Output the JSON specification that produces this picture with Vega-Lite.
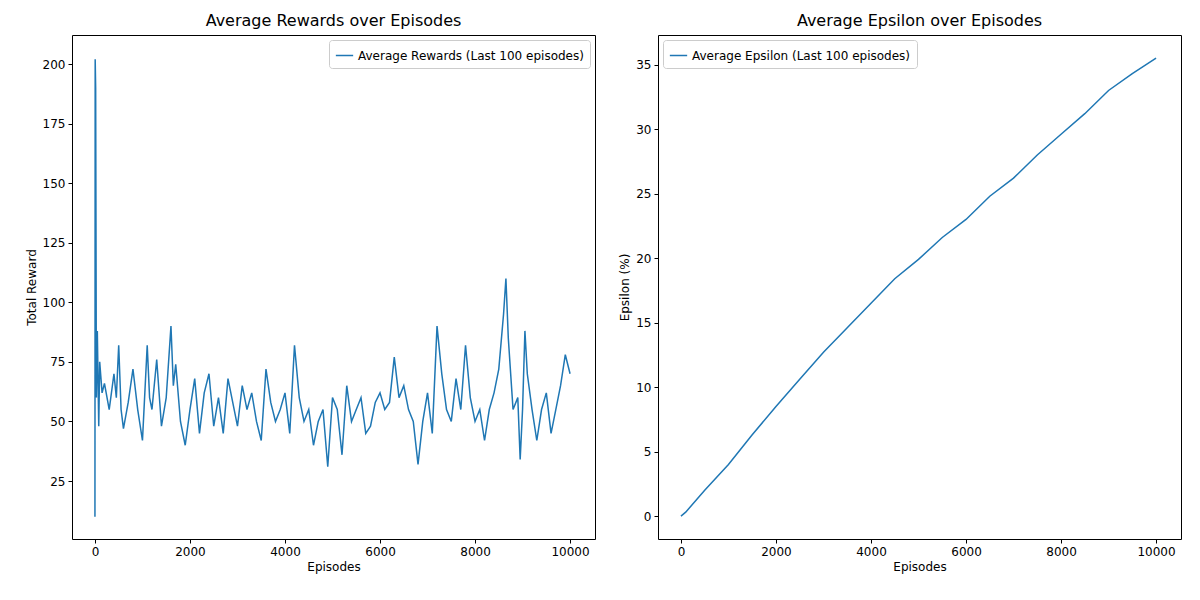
{
  "$schema": "https://vega.github.io/schema/vega-lite/v6.json",
  "background": "white",
  "padding": {"left": 24, "top": 12, "right": 5, "bottom": 5},
  "spacing": 22,
  "datasets": {
    "rewards": [
      {"ep":0,"r":10},{"ep":5,"r":202},{"ep":15,"r":190},{"ep":30,"r":60},{"ep":50,"r":88},{"ep":80,"r":48},{"ep":100,"r":75},{"ep":150,"r":62},{"ep":200,"r":66},{"ep":300,"r":55},{"ep":400,"r":70},{"ep":450,"r":60},{"ep":500,"r":82},{"ep":550,"r":55},{"ep":600,"r":47},{"ep":700,"r":58},{"ep":800,"r":72},{"ep":900,"r":55},{"ep":1000,"r":42},{"ep":1100,"r":82},{"ep":1150,"r":60},{"ep":1200,"r":55},{"ep":1300,"r":76},{"ep":1400,"r":48},{"ep":1500,"r":60},{"ep":1600,"r":90},{"ep":1650,"r":65},{"ep":1700,"r":74},{"ep":1800,"r":50},{"ep":1900,"r":40},{"ep":2000,"r":55},{"ep":2100,"r":68},{"ep":2200,"r":45},{"ep":2300,"r":62},{"ep":2400,"r":70},{"ep":2500,"r":48},{"ep":2600,"r":60},{"ep":2700,"r":45},{"ep":2800,"r":68},{"ep":2900,"r":58},{"ep":3000,"r":48},{"ep":3100,"r":65},{"ep":3200,"r":55},{"ep":3300,"r":62},{"ep":3400,"r":50},{"ep":3500,"r":42},{"ep":3600,"r":72},{"ep":3700,"r":58},{"ep":3800,"r":50},{"ep":3900,"r":55},{"ep":4000,"r":62},{"ep":4100,"r":45},{"ep":4200,"r":82},{"ep":4300,"r":60},{"ep":4400,"r":50},{"ep":4500,"r":55},{"ep":4600,"r":40},{"ep":4700,"r":50},{"ep":4800,"r":55},{"ep":4900,"r":31},{"ep":5000,"r":60},{"ep":5100,"r":55},{"ep":5200,"r":36},{"ep":5300,"r":65},{"ep":5400,"r":50},{"ep":5500,"r":55},{"ep":5600,"r":60},{"ep":5700,"r":45},{"ep":5800,"r":48},{"ep":5900,"r":58},{"ep":6000,"r":62},{"ep":6100,"r":55},{"ep":6200,"r":58},{"ep":6300,"r":77},{"ep":6400,"r":60},{"ep":6500,"r":65},{"ep":6600,"r":55},{"ep":6700,"r":50},{"ep":6800,"r":32},{"ep":6900,"r":50},{"ep":7000,"r":62},{"ep":7100,"r":45},{"ep":7200,"r":90},{"ep":7300,"r":70},{"ep":7400,"r":55},{"ep":7500,"r":50},{"ep":7600,"r":68},{"ep":7700,"r":55},{"ep":7800,"r":82},{"ep":7900,"r":60},{"ep":8000,"r":50},{"ep":8100,"r":55},{"ep":8200,"r":42},{"ep":8300,"r":55},{"ep":8400,"r":62},{"ep":8500,"r":72},{"ep":8600,"r":95},{"ep":8650,"r":110},{"ep":8700,"r":85},{"ep":8800,"r":55},{"ep":8900,"r":60},{"ep":8950,"r":34},{"ep":9000,"r":55},{"ep":9050,"r":88},{"ep":9100,"r":70},{"ep":9200,"r":55},{"ep":9300,"r":42},{"ep":9400,"r":55},{"ep":9500,"r":62},{"ep":9600,"r":45},{"ep":9700,"r":55},{"ep":9800,"r":65},{"ep":9900,"r":78},{"ep":10000,"r":70}
    ],
    "epsilon": [
      {"ep":0,"e":0},{"ep":100,"e":0.3},{"ep":500,"e":2},{"ep":1000,"e":4},{"ep":1500,"e":6.3},{"ep":2000,"e":8.5},{"ep":2500,"e":10.6},{"ep":3000,"e":12.7},{"ep":3500,"e":14.6},{"ep":4000,"e":16.5},{"ep":4500,"e":18.4},{"ep":5000,"e":19.9},{"ep":5500,"e":21.6},{"ep":6000,"e":23},{"ep":6500,"e":24.8},{"ep":7000,"e":26.2},{"ep":7500,"e":28},{"ep":8000,"e":29.6},{"ep":8500,"e":31.2},{"ep":9000,"e":33},{"ep":9500,"e":34.3},{"ep":10000,"e":35.5}
    ]
  },
  "hconcat": [
    {
      "width": 523, "height": 504,
      "title": "Average Rewards over Episodes",
      "data": {"name": "rewards"},
      "transform": [{"calculate": "'Average Rewards (Last 100 episodes)'", "as": "s"}],
      "mark": {"type": "line", "strokeWidth": 1.5, "clip": true},
      "encoding": {
        "x": {"field": "ep", "type": "quantitative", "title": "Episodes", "scale": {"domain": [-483, 10525], "nice": false, "zero": false}, "axis": {"values": [0,2000,4000,6000,8000,10000], "format": "d"}},
        "y": {"field": "r", "type": "quantitative", "title": "Total Reward", "scale": {"domain": [0.66, 212.2], "nice": false, "zero": false}, "axis": {"values": [25,50,75,100,125,150,175,200], "format": "d"}},
        "color": {"field": "s", "type": "nominal", "scale": {"range": ["#1f77b4"]}, "legend": {"title": null, "orient": "top-right"}}
      }
    },
    {
      "width": 523, "height": 504,
      "title": "Average Epsilon over Episodes",
      "data": {"name": "epsilon"},
      "transform": [{"calculate": "'Average Epsilon (Last 100 episodes)'", "as": "s"}],
      "mark": {"type": "line", "strokeWidth": 1.5},
      "encoding": {
        "x": {"field": "ep", "type": "quantitative", "title": "Episodes", "scale": {"domain": [-483, 10525], "nice": false, "zero": false}, "axis": {"values": [0,2000,4000,6000,8000,10000], "format": "d"}},
        "y": {"field": "e", "type": "quantitative", "title": "Epsilon (%)", "scale": {"domain": [-1.78, 37.3], "nice": false, "zero": false}, "axis": {"values": [0,5,10,15,20,25,30,35], "format": "d"}},
        "color": {"field": "s", "type": "nominal", "scale": {"range": ["#1f77b4"]}, "legend": {"title": null, "orient": "top-left"}}
      }
    }
  ],
  "resolve": {"scale": {"color": "independent"}},
  "config": {
    "font": "DejaVu Sans",
    "view": {"stroke": "black", "strokeWidth": 1},
    "title": {"fontSize": 16, "fontWeight": "normal", "color": "black", "offset": 6},
    "axis": {"grid": false, "domain": false, "tickColor": "black", "labelColor": "black", "labelFontSize": 12, "titleFontSize": 12, "titleFontWeight": "normal", "titleColor": "black", "tickSize": 4, "labelPadding": 3},
    "legend": {"fillColor": "white", "strokeColor": "#cccccc", "padding": 6, "cornerRadius": 3, "labelFontSize": 12, "labelColor": "black", "symbolType": "stroke", "symbolStrokeWidth": 1.5, "symbolSize": 300, "offset": 5, "labelLimit": 400}
  }
}
